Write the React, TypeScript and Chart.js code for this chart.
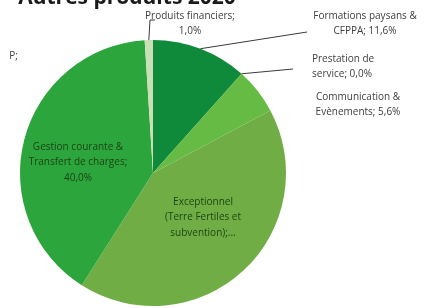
import React, { useEffect, useRef } from "react";
import { Chart, registerables } from "chart.js";

Chart.register(...registerables);

const categories = [
  "Formations paysans & CFPPA",
  "Prestation de service",
  "Communication & Evènements",
  "Exceptionnel (Terre Fertiles et subvention)",
  "Gestion courante & Transfert de charges",
  "Produits financiers",
];
const values = [11.6, 0.0, 5.6, 41.8, 40.0, 1.0];
const labelLines = [
  ["Formations paysans &", "CFPPA; 11,6%"],
  ["Prestation de", "service; 0,0%"],
  ["Communication &", "Evènements; 5,6%"],
  ["Exceptionnel", "(Terre Fertiles et", "subvention);..."],
  ["Gestion courante &", "Transfert de charges;", "40,0%"],
  ["Produits financiers;", "1,0%"],
];
const colors = ["#0f8a3b", "#58b947", "#66bb44", "#70ae45", "#2ca53d", "#cadfb6"];
const titleText = "Autres produits 2020";

// label layout: text anchor (x,y of first line), alignment, inside flag, leader end
const labelLayout = [
  { x: 365, y: 16, align: "center", inside: false, leader: [[307, 32]] },
  { x: 312, y: 59, align: "left", inside: false, leader: [[293, 69]] },
  { x: 358, y: 97, align: "center", inside: false, leader: null },
  { x: 203, y: 202, align: "center", inside: true, leader: null },
  { x: 78, y: 147, align: "center", inside: true, leader: null },
  { x: 190, y: 16, align: "center", inside: false, leader: [[150, 20], [155, 20]] },
];

const labelPlugin = {
  id: "pieLabels",
  afterDatasetsDraw(chart: any) {
    const ctx = chart.ctx;
    const meta = chart.getDatasetMeta(0);
    ctx.save();
    ctx.font = "10px 'Open Sans'";
    ctx.textBaseline = "middle";
    meta.data.forEach((arc: any, i: number) => {
      const lay = labelLayout[i];
      const mid = (arc.startAngle + arc.endAngle) / 2;
      if (lay.leader) {
        const sx = arc.x + Math.cos(mid) * arc.outerRadius;
        const sy = arc.y + Math.sin(mid) * arc.outerRadius;
        ctx.beginPath();
        ctx.strokeStyle = "#3a3a3a";
        ctx.lineWidth = 1;
        ctx.moveTo(sx, sy);
        lay.leader.forEach((p: number[]) => ctx.lineTo(p[0], p[1]));
        ctx.stroke();
      }
      ctx.fillStyle = lay.inside ? "#1b4512" : "#404040";
      ctx.textAlign = lay.align;
      labelLines[i].forEach((t, j) => {
        ctx.fillText(t, lay.x, lay.y + j * 15.5);
      });
    });
    // cut-off label at the left edge
    ctx.fillStyle = "#404040";
    ctx.textAlign = "right";
    ctx.fillText("P;", 18, 56);
    // title, cut at top
    ctx.fillStyle = "#1a1a1a";
    ctx.font = "bold 21px 'Open Sans'";
    ctx.textAlign = "center";
    ctx.textBaseline = "alphabetic";
    ctx.fillText(titleText, 127, 4);
    ctx.restore();
  },
};

export default function App() {
  const ref = useRef<HTMLCanvasElement>(null);
  useEffect(() => {
    if (!ref.current) return;
    const chart = new Chart(ref.current, {
      type: "pie",
      data: {
        labels: categories,
        datasets: [
          {
            data: values,
            backgroundColor: colors,
            borderWidth: 0,
          },
        ],
      },
      options: {
        responsive: false,
        animation: false,
        layout: { padding: { left: 20, top: 40, right: 141, bottom: 2 } },
        plugins: {
          legend: { display: false },
          tooltip: { enabled: false },
          title: { display: false },
        },
      },
      plugins: [labelPlugin],
    } as any);
    return () => chart.destroy();
  }, []);
  return (
    <div style={{ position: "fixed", left: 0, top: 0, width: 427, height: 308, background: "#fff" }}>
      <canvas ref={ref} width={427} height={308} style={{ width: 427, height: 308 }} />
    </div>
  );
}
